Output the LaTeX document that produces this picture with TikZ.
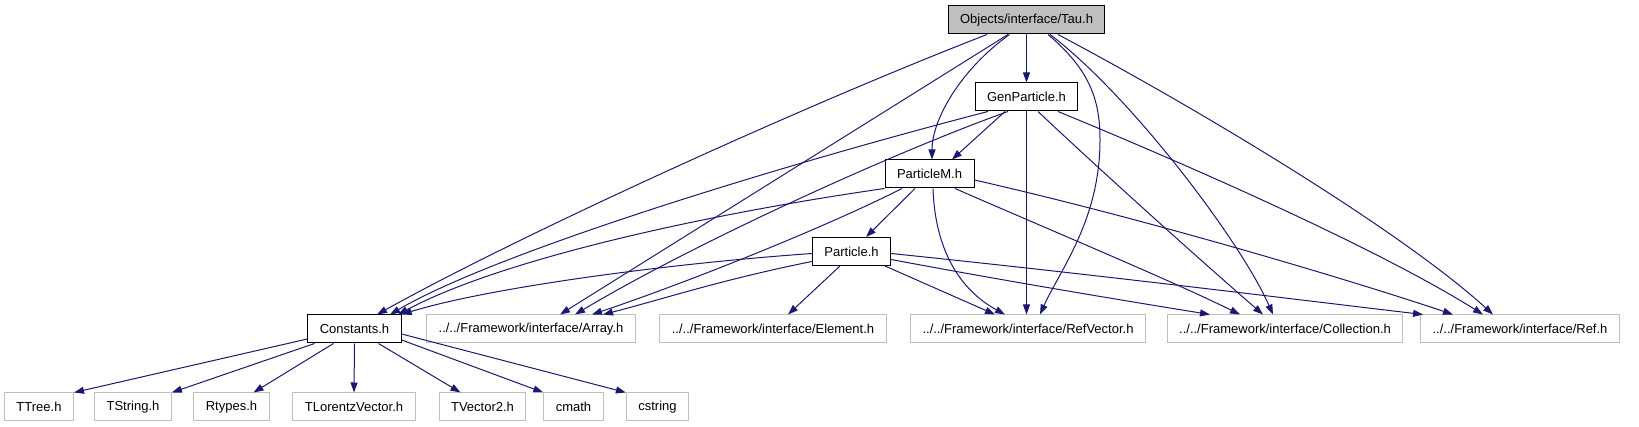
\documentclass[tikz,border=0pt]{standalone}
\usepackage{fontspec}
\newfontfamily\dxfont{Liberation Sans}
\usetikzlibrary{arrows.meta}

\definecolor{dxblue}{HTML}{191970}
\definecolor{dxgray}{HTML}{BFBFBF}

\begin{document}
\begin{tikzpicture}[x=1pt,y=-1pt,
  hdr/.style={draw=black,line width=1pt,font=\dxfont\fontsize{13}{15}\selectfont,
              inner xsep=12pt,inner ysep=0pt,minimum height=28pt},
  ext/.style={hdr,draw=dxgray},
  inc/.style={dxblue,line width=1pt,-{Triangle[length=10pt,width=7pt]}}]
\useasboundingbox (0,0) rectangle (1639,427);

% headers of the project
\node[hdr,fill=dxgray] (tau) at (1026.5,20) {Objects/interface/Tau.h};
\node[hdr] (gen)   at (1026.5,97)  {GenParticle.h};
\node[hdr] (pm)    at (929.5,174)  {ParticleM.h};
\node[hdr] (part)  at (851.5,251.5) {Particle.h};
\node[hdr] (const) at (354.5,329)  {Constants.h};

% framework headers
\node[ext] (array) at (531,329)  {../../Framework/interface/Array.h};
\node[ext] (elem)  at (773,329)  {../../Framework/interface/Element.h};
\node[ext] (rvec)  at (1028,329) {../../Framework/interface/RefVector.h};
\node[ext] (coll)  at (1285,329) {../../Framework/interface/Collection.h};
\node[ext] (ref)   at (1520,329) {../../Framework/interface/Ref.h};

% system headers
\node[ext] (ttree)   at (39,407)    {TTree.h};
\node[ext] (tstring) at (133,407)   {TString.h};
\node[ext] (rtypes)  at (231.5,407) {Rtypes.h};
\node[ext] (tlv)     at (354,407)   {TLorentzVector.h};
\node[ext] (tvec)    at (482.5,407) {TVector2.h};
\node[ext] (cmath)   at (573.5,407) {cmath};
\node[ext] (cstring) at (657.5,407) {cstring};

% includes of Tau.h
\draw[inc] ([xshift=-39.5pt]tau.south) .. controls (800,107) and (520,235) .. ([xshift=22.5pt]const.north);
\draw[inc] ([xshift=-18.5pt]tau.south) -- ([xshift=29pt]array.north);
\draw[inc] (tau.south) -- (gen.north);
\draw[inc] ([xshift=-17pt]tau.south) .. controls (960,70) and (932,120) .. ([xshift=2.5pt]pm.north);
\draw[inc] ([xshift=21.5pt]tau.south) .. controls (1090,70) and (1100,100) .. (1100,140)
           .. controls (1100,220) and (1060,270) .. ([xshift=12pt]rvec.north);
\draw[inc] ([xshift=23.5pt]tau.south) .. controls (1130,95) and (1240,240) .. ([xshift=-12pt]coll.north);
\draw[inc] ([xshift=31.5pt]tau.south) .. controls (1200,110) and (1400,230) .. ([xshift=-27pt]ref.north);

% includes of GenParticle.h
\draw[inc] ([xshift=-38.5pt]gen.south) .. controls (800,160) and (500,250) .. ([xshift=35.5pt]const.north);
\draw[inc] ([xshift=-18.5pt]gen.south) .. controls (900,150) and (700,240) .. ([xshift=44pt]array.north);
\draw[inc] ([xshift=-21.5pt]gen.south) -- ([xshift=22.5pt]pm.north);
\draw[inc] (gen.south) -- ([xshift=-1.5pt]rvec.north);
\draw[inc] ([xshift=11.5pt]gen.south) .. controls (1100,170) and (1200,260) .. ([xshift=-22pt]coll.north);
\draw[inc] ([xshift=31.5pt]gen.south) .. controls (1200,170) and (1380,250) .. ([xshift=-37pt]ref.north);

% includes of ParticleM.h
\draw[inc] (pm.south west) .. controls (700,215) and (500,260) .. ([xshift=43.5pt]const.north);
\draw[inc] ([xshift=-27.5pt]pm.south) .. controls (820,230) and (680,285) .. ([xshift=61pt]array.north);
\draw[inc] ([xshift=-14.5pt]pm.south) -- ([xshift=14.5pt]part.north);
\draw[inc] ([xshift=3.5pt]pm.south) .. controls (935,250) and (960,290) .. ([xshift=-23pt]rvec.north);
\draw[inc] ([xshift=25.5pt]pm.south) .. controls (1050,230) and (1170,280) .. ([xshift=-45pt]coll.north);
\draw[inc] ([yshift=-6pt]pm.east) .. controls (1150,220) and (1350,280) .. ([xshift=-67pt]ref.north);

% includes of Particle.h
\draw[inc] ([yshift=-2pt]part.west) .. controls (650,265) and (480,290) .. (const.north east);
\draw[inc] ([yshift=-10pt]part.west) .. controls (720,280) and (660,300) .. ([xshift=72pt]array.north);
\draw[inc] ([xshift=-11.5pt]part.south) -- ([xshift=15pt]elem.north);
\draw[inc] ([xshift=33.5pt]part.south) -- ([xshift=-33pt]rvec.north);
\draw[inc] ([yshift=-8pt]part.east) .. controls (1000,280) and (1120,300) .. ([xshift=-75pt]coll.north);
\draw[inc] ([yshift=-2pt]part.east) .. controls (1100,275) and (1300,300) .. ([xshift=3pt]ref.north west);

% includes of Constants.h
\draw[inc] ([yshift=-10pt]const.west) -- (ttree.north east);
\draw[inc] ([xshift=-40pt]const.south) -- (tstring.north east);
\draw[inc] ([xshift=-21pt]const.south) -- ([xshift=22pt]rtypes.north);
\draw[inc] (const.south) -- (tlv.north);
\draw[inc] ([xshift=24pt]const.south) -- ([xshift=-22pt]tvec.north);
\draw[inc] ([yshift=-11pt]const.east) -- (cmath.north west);
\draw[inc] ([yshift=-5pt]const.east) -- (cstring.north west);
\end{tikzpicture}
\end{document}
